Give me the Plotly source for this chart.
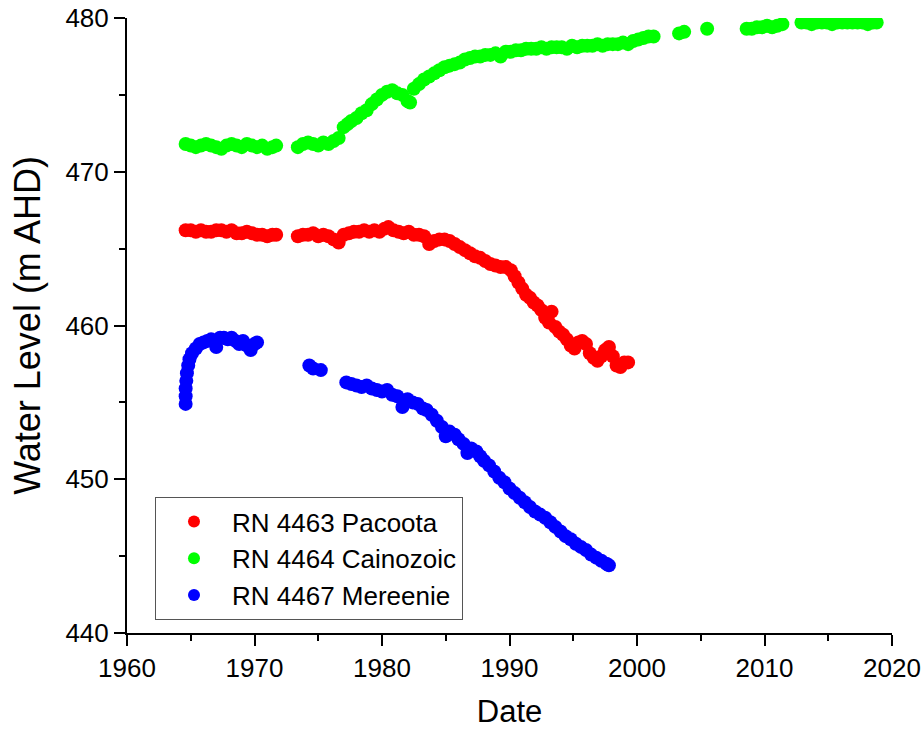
import plotly.graph_objects as go

# RN 4463 Pacoota
pac_year = [1964.6, 1965.0, 1965.4, 1965.8, 1966.2, 1966.6, 1967.0, 1967.4, 1967.8, 1968.2,
            1968.6, 1969.0, 1969.4, 1969.8, 1970.2, 1970.6, 1971.0, 1971.4, 1971.7,
            1973.4, 1973.8, 1974.2, 1974.6, 1975.0, 1975.4, 1975.8, 1976.2, 1976.6, 1977.0,
            1977.4, 1977.8, 1978.2, 1978.6, 1979.0, 1979.4, 1979.8, 1980.2, 1980.5, 1980.9,
            1981.3, 1981.7, 1982.1, 1982.5, 1982.9, 1983.3, 1983.7, 1984.1, 1984.5, 1984.9,
            1985.3, 1985.7, 1986.1, 1986.5, 1986.9, 1987.3, 1987.7, 1988.1, 1988.5, 1988.9,
            1989.3, 1989.7, 1990.1, 1990.4, 1990.7, 1991.0, 1991.3, 1991.6, 1991.9, 1992.2,
            1992.5, 1992.8, 1993.1, 1993.3, 1993.6, 1993.9, 1994.2, 1994.5, 1994.8, 1995.1,
            1995.4, 1995.7, 1996.0, 1996.3, 1996.6, 1996.9, 1997.2, 1997.5, 1997.8, 1998.1,
            1998.4, 1998.7, 1999.0, 1999.3]
pac_level = [466.2, 466.2, 466.1, 466.2, 466.1, 466.1, 466.2, 466.2, 466.1, 466.2,
             466.0, 466.0, 466.1, 466.0, 465.9, 465.9, 465.8, 465.9, 465.9,
             465.8, 465.9, 465.9, 466.0, 465.8, 465.9, 465.8, 465.6, 465.4, 465.9,
             466.0, 466.1, 466.1, 466.2, 466.1, 466.2, 466.1, 466.3, 466.4, 466.2,
             466.1, 466.0, 466.1, 465.9, 465.9, 465.8, 465.3, 465.5, 465.6, 465.6,
             465.5, 465.3, 465.1, 464.9, 464.7, 464.5, 464.4, 464.2, 464.0, 463.9,
             463.8, 463.8, 463.6, 463.2, 462.8, 462.4, 462.0, 461.8, 461.5, 461.3,
             461.0, 460.5, 460.2, 460.9, 459.9, 459.6, 459.4, 459.1, 458.7, 458.5,
             458.9, 459.0, 458.8, 458.2, 457.9, 457.7, 458.0, 458.4, 458.6, 458.0,
             457.4, 457.3, 457.6, 457.6]

# RN 4464 Cainozoic
cai_year = [1964.6, 1965.0, 1965.4, 1965.8, 1966.2, 1966.6, 1967.0, 1967.4, 1967.8, 1968.2,
            1968.6, 1969.0, 1969.4, 1969.8, 1970.2, 1970.6, 1971.0, 1971.4, 1971.7,
            1973.4, 1973.8, 1974.2, 1974.6, 1975.0, 1975.4, 1975.8, 1976.2, 1976.6, 1977.0,
            1977.3, 1977.6, 1978.0, 1978.4, 1978.8, 1979.2, 1979.6, 1980.0, 1980.4, 1980.8,
            1981.2, 1981.6, 1982.0, 1982.2, 1982.5, 1982.9, 1983.3, 1983.7, 1984.1, 1984.5,
            1984.9, 1985.3, 1985.7, 1986.1, 1986.5, 1986.9, 1987.3, 1987.7, 1988.1, 1988.5,
            1988.9, 1989.3, 1989.7, 1990.1, 1990.5, 1990.9, 1991.3, 1991.7, 1992.1, 1992.5,
            1992.9, 1993.3, 1993.7, 1994.1, 1994.5, 1994.9, 1995.3, 1995.7, 1996.1, 1996.5,
            1996.9, 1997.3, 1997.7, 1998.1, 1998.5, 1998.9, 1999.3, 1999.7, 2000.1, 2000.5,
            2000.9, 2001.3, 2003.3, 2003.7, 2005.5,
            2008.6, 2009.0, 2009.4, 2009.8, 2010.2, 2010.6, 2011.0, 2011.4,
            2012.9, 2013.3, 2013.7, 2014.1, 2014.5, 2014.9, 2015.3, 2015.7, 2016.1, 2016.5,
            2016.9, 2017.3, 2017.7, 2018.1, 2018.5, 2018.8]
cai_level = [471.8, 471.7, 471.6, 471.7, 471.8, 471.7, 471.6, 471.5, 471.7, 471.8,
             471.7, 471.6, 471.8, 471.7, 471.6, 471.7, 471.5, 471.6, 471.7,
             471.6, 471.8, 471.9, 471.8, 471.7, 471.9, 471.8, 472.0, 472.2, 472.9,
             473.1, 473.3, 473.5, 473.8, 474.0, 474.4, 474.7, 475.0, 475.2, 475.3,
             475.1, 475.0, 474.6, 474.5, 475.4, 475.7, 476.0, 476.2, 476.4, 476.6,
             476.8, 476.9, 477.0, 477.1, 477.3, 477.4, 477.5, 477.5, 477.6, 477.6,
             477.7, 477.5, 477.8, 477.8, 477.9, 477.9, 478.0, 478.0, 478.0, 478.1,
             478.0, 478.1, 478.1, 478.1, 478.0, 478.2, 478.1, 478.2, 478.2, 478.2,
             478.3, 478.2, 478.3, 478.3, 478.3, 478.4, 478.3, 478.5, 478.6, 478.7,
             478.8, 478.8, 479.0, 479.1, 479.3,
             479.3, 479.3, 479.4, 479.4, 479.5, 479.4, 479.5, 479.6,
             479.7, 479.7, 479.6, 479.7, 479.7, 479.7, 479.6, 479.7, 479.7, 479.7,
             479.7, 479.7, 479.7, 479.6, 479.7, 479.7]

# RN 4467 Mereenie
mer_year = [1964.6, 1964.6, 1964.6, 1964.65, 1964.7, 1964.8, 1964.9, 1965.1, 1965.4, 1965.7,
            1966.0, 1966.3, 1966.6, 1967.0, 1967.3, 1967.6, 1967.9, 1968.2, 1968.5, 1968.8,
            1969.1, 1969.4, 1969.7, 1970.0, 1970.2,
            1974.3, 1974.6, 1975.2,
            1977.2, 1977.6, 1978.0, 1978.4, 1978.8, 1979.2, 1979.6, 1980.0, 1980.4, 1980.8,
            1981.2, 1981.6, 1982.0, 1982.4, 1982.8, 1983.2, 1983.5, 1983.9, 1984.3, 1984.7,
            1985.0, 1985.3, 1985.7, 1986.0, 1986.4, 1986.7, 1987.0, 1987.4, 1987.7, 1988.0,
            1988.4, 1988.8, 1989.2, 1989.6, 1990.0, 1990.4, 1990.8, 1991.2, 1991.6, 1992.0,
            1992.4, 1992.8, 1993.2, 1993.6, 1994.0, 1994.4, 1994.8, 1995.2, 1995.6, 1996.0,
            1996.4, 1996.8, 1997.2, 1997.6, 1997.8]
mer_level = [454.9, 455.4, 455.9, 456.4, 456.9, 457.4, 457.8, 458.2, 458.5, 458.8,
             458.9, 459.0, 459.1, 458.6, 459.2, 459.2, 459.1, 459.2, 459.0, 458.8,
             459.0, 458.7, 458.4, 458.8, 458.9,
             457.4, 457.2, 457.1,
             456.3, 456.2, 456.1, 456.0, 456.1, 455.9, 455.8, 455.7, 455.8, 455.5,
             455.4, 454.7, 455.2, 455.0, 454.9, 454.6, 454.5, 454.2, 453.8, 453.4,
             452.8, 453.1, 452.9, 452.6, 452.3, 451.7, 452.0, 451.8, 451.5, 451.2,
             450.9, 450.5, 450.1, 449.8, 449.4, 449.1, 448.8, 448.5, 448.2, 447.9,
             447.7, 447.5, 447.2, 446.9, 446.6, 446.3, 446.1, 445.8, 445.6, 445.4,
             445.1, 444.9, 444.7, 444.5, 444.4]

series_names = ["RN 4463 Pacoota", "RN 4464 Cainozoic", "RN 4467 Mereenie"]
series_colors = ["#FF0000", "#00FF00", "#0000FF"]
series_x = [pac_year, cai_year, mer_year]
series_y = [pac_level, cai_level, mer_level]

FONT = "Arial, 'Liberation Sans', sans-serif"

fig = go.Figure()
for name, color, xs, ys in zip(series_names, series_colors, series_x, series_y):
    fig.add_trace(go.Scatter(
        x=xs, y=ys, mode="markers", name=name,
        marker=dict(color=color, size=14, line=dict(width=0)),
    ))

axis_common = dict(
    showline=True, linecolor="black", linewidth=2,
    ticks="outside", ticklen=11, tickwidth=2, tickcolor="black",
    showgrid=False, zeroline=False, mirror=False, automargin=False,
    tickfont=dict(family=FONT, size=26, color="black"),
)

fig.update_xaxes(
    range=[1960, 2020], dtick=10, tick0=1960,
    minor=dict(ticks="outside", ticklen=6, tickwidth=2, tickcolor="black", dtick=5, showgrid=False),
    title=dict(text="Date", font=dict(family=FONT, size=31, color="black"), standoff=18),
    **axis_common,
)
fig.update_yaxes(
    range=[440, 480], dtick=10, tick0=440,
    minor=dict(ticks="outside", ticklen=6, tickwidth=2, tickcolor="black", dtick=5, showgrid=False),
    title=dict(text="Water Level (m AHD)", font=dict(family=FONT, size=36, color="black"), standoff=14),
    **axis_common,
)

fig.update_layout(
    width=923, height=731,
    margin=dict(l=127, r=31, t=18, b=98),
    plot_bgcolor="white", paper_bgcolor="white",
    showlegend=True,
    legend=dict(
        x=0.0366, y=0.221, xanchor="left", yanchor="top",
        bgcolor="white", bordercolor="#555555", borderwidth=1,
        font=dict(family=FONT, size=26, color="black"),
        itemsizing="constant", itemwidth=66,
        tracegroupgap=0,
    ),
)

fig.write_html("out.html")
